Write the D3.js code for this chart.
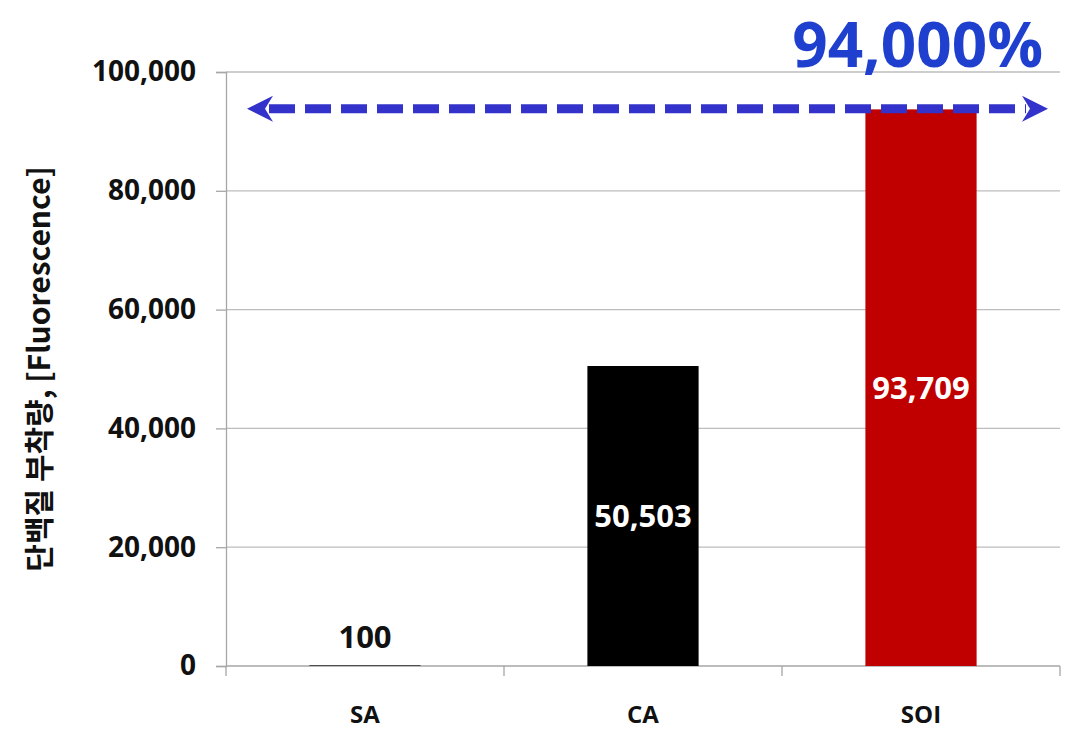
<!DOCTYPE html>
<html>
<head>
<meta charset="utf-8">
<script src="https://cdn.jsdelivr.net/npm/d3@7"></script>
<style>
  body { margin: 0; background: #fff; }
  text { font-family: "Noto Sans CJK KR", "Noto Sans", sans-serif; font-weight: bold; }
</style>
</head>
<body>
<script>
// data
var categories = ["SA", "CA", "SOI"];
var values = [100, 50503, 93709];
var barColors = ["#000000", "#000000", "#c00000"];
var labelColors = ["#111111", "#ffffff", "#ffffff"];
var yTicks = [0, 20000, 40000, 60000, 80000, 100000];
var highlightValue = 94000;
var highlightText = "94,000%";
var yTitle = "단백질 부착량, [Fluorescence]";

var w = 1071, h = 731;
var margin = {top: 72, right: 11, bottom: 65, left: 226};

var svg = d3.select("body").append("svg")
  .attr("width", w)
  .attr("height", h);

var x = d3.scaleBand()
  .domain(categories)
  .range([margin.left, w - margin.right])
  .paddingInner(0.6)
  .paddingOuter(0.3);

var y = d3.scaleLinear()
  .domain([0, 100000])
  .range([h - margin.bottom, margin.top]);

var fmt = d3.format(",");
var numFont = "'Open Sans', 'Noto Sans', sans-serif";

// gridlines
svg.append("g")
  .selectAll("line")
  .data(yTicks.slice(1))
  .enter()
  .append("line")
  .attr("x1", margin.left)
  .attr("x2", w - margin.right)
  .attr("y1", function(d) { return y(d); })
  .attr("y2", function(d) { return y(d); })
  .attr("stroke", "#bdbdbd")
  .attr("stroke-width", 1.3);

// y axis
var yAxis = svg.append("g")
  .attr("transform", "translate(" + margin.left + ",0)")
  .call(d3.axisLeft(y).tickValues(yTicks).tickFormat(fmt).tickSize(10).tickPadding(20));
yAxis.select(".domain").attr("stroke", "#a6a6a6").attr("stroke-width", 1.3);
yAxis.selectAll(".tick line").attr("stroke", "#a6a6a6").attr("stroke-width", 1.3);
yAxis.selectAll(".tick text")
  .attr("fill", "#111")
  .style("font-family", numFont)
  .style("font-weight", "bold")
  .style("font-size", "28px");

// x axis: ticks at band boundaries
var bounds = [margin.left].concat(categories.map(function(c, i) {
  return margin.left + (i + 1) * (w - margin.right - margin.left) / categories.length;
}));
svg.append("line")
  .attr("x1", margin.left).attr("x2", w - margin.right)
  .attr("y1", y(0)).attr("y2", y(0))
  .attr("stroke", "#a6a6a6").attr("stroke-width", 1.3);
svg.append("g")
  .selectAll("line")
  .data(bounds)
  .enter()
  .append("line")
  .attr("x1", function(d) { return d; })
  .attr("x2", function(d) { return d; })
  .attr("y1", y(0))
  .attr("y2", y(0) + 10)
  .attr("stroke", "#a6a6a6").attr("stroke-width", 1.3);

svg.append("g")
  .selectAll("text")
  .data(categories)
  .enter()
  .append("text")
  .attr("x", function(d) { return x(d) + x.bandwidth() / 2; })
  .attr("y", 723)
  .attr("text-anchor", "middle")
  .attr("fill", "#111")
  .style("font-family", numFont)
  .style("font-size", "24px")
  .text(function(d) { return d; });

// bars
svg.append("g")
  .selectAll("rect")
  .data(values)
  .enter()
  .append("rect")
  .attr("x", function(d, i) { return x(categories[i]); })
  .attr("y", function(d) { return y(d); })
  .attr("width", x.bandwidth())
  .attr("height", function(d) { return y(0) - y(d); })
  .attr("fill", function(d, i) { return barColors[i]; });

// value labels (centred in bar, or above for tiny bar)
svg.append("g")
  .selectAll("text")
  .data(values)
  .enter()
  .append("text")
  .attr("x", function(d, i) { return x(categories[i]) + x.bandwidth() / 2; })
  .attr("y", function(d) {
    var mid = (y(d) + y(0)) / 2;
    return d < 5000 ? y(0) - 18 : mid + 11;
  })
  .attr("text-anchor", "middle")
  .attr("fill", function(d, i) { return labelColors[i]; })
  .style("font-family", numFont)
  .style("font-size", "31px")
  .text(function(d) { return fmt(d); });

// y title
svg.append("text")
  .attr("transform", "translate(50," + ((margin.top + h - margin.bottom) / 2) + ") rotate(-90)")
  .attr("text-anchor", "middle")
  .attr("fill", "#111")
  .style("font-size", "30px")
  .text(yTitle);

// dashed double arrow at the highlight level
var ay = y(highlightValue) + 1;
var ax1 = 247, ax2 = 1048;
var blue = "#3333cc";
svg.append("line")
  .attr("x1", ax1 + 22).attr("x2", ax2 - 22)
  .attr("y1", ay).attr("y2", ay)
  .attr("stroke", blue)
  .attr("stroke-width", 9)
  .attr("stroke-dasharray", "26,10");
function head(tipX, dir) {
  var p = d3.path();
  p.moveTo(tipX, ay);
  p.lineTo(tipX + dir * 26, ay - 13);
  p.lineTo(tipX + dir * 18, ay);
  p.lineTo(tipX + dir * 26, ay + 13);
  p.closePath();
  svg.append("path").attr("d", p.toString()).attr("fill", blue);
}
head(ax1, 1);
head(ax2, -1);

svg.append("text")
  .attr("x", 1043)
  .attr("y", 67)
  .attr("text-anchor", "end")
  .attr("fill", "#1f3fcf")
  .style("font-family", numFont)
  .style("font-size", "62px")
  .text(highlightText);
</script>
</body>
</html>
